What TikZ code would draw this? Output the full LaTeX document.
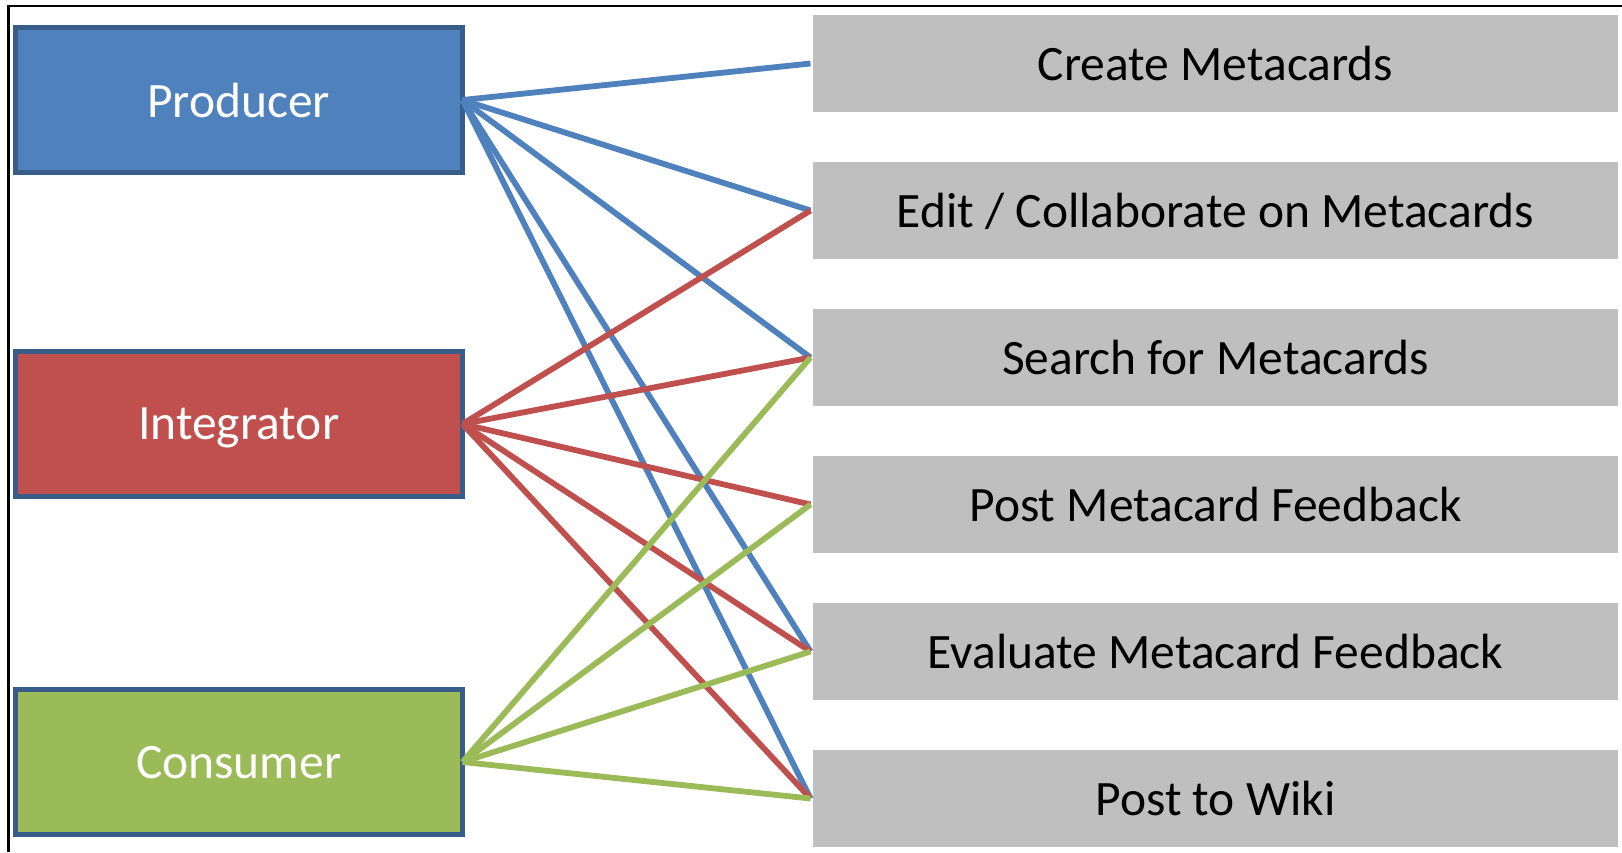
\documentclass[tikz,border=0pt]{standalone}
\usepackage{fontspec}
\setmainfont{Carlito}
\definecolor{pblue}{HTML}{4F81BD}
\definecolor{pred}{HTML}{C0504D}
\definecolor{pgreen}{HTML}{9BBB59}
\definecolor{pborder}{HTML}{385D8A}
\definecolor{pgray}{HTML}{BFBFBF}
\begin{document}
\begin{tikzpicture}[x=1pt,y=-1pt,
  rolebox/.style={draw=pborder,line width=5pt,outer sep=0pt,inner sep=0pt,
    minimum width=447.5pt,minimum height=145pt,text=white,text depth=0pt,
    font=\fontsize{49.5}{59}\selectfont},
  taskbox/.style={fill=pgray,draw=none,outer sep=0pt,inner sep=0pt,
    minimum width=805pt,minimum height=97pt,text=black,text depth=0pt,
    font=\fontsize{49.5}{59}\selectfont},
  link/.style={line width=5.8pt}]
\useasboundingbox (0,0) rectangle (1622,852);
\fill[white] (0,0) rectangle (1622,852);
% frame (top and left edges visible)
\coordinate (ftl) at (8.7,6);
\coordinate (ftr) at (1622,6);
\coordinate (fbl) at (8.7,852);
\draw[line width=2.6pt,black] (fbl) -- (ftl) -- (ftr);
% role boxes
\node[rolebox,fill=pblue]  (prod) at (238.75,100) {Producer};
\node[rolebox,fill=pred]   (integ) at (238.75,424) {Integrator};
\node[rolebox,fill=pgreen] (cons) at (238.75,762) {Consumer};
% task boxes
\node[taskbox] (create) at (1215.5,63.5)  {Create Metacards};
\node[taskbox] (edit)   at (1215.5,210.5) {Edit / Collaborate on Metacards};
\node[taskbox] (search) at (1215.5,357.5) {Search for Metacards};
\node[taskbox] (post)   at (1215.5,504.5) {Post Metacard Feedback};
\node[taskbox] (eval)   at (1215.5,651.5) {Evaluate Metacard Feedback};
\node[taskbox] (wiki)   at (1215.5,798.5) {Post to Wiki};
% links
\foreach \t in {create,edit,search,eval,wiki}
  \draw[link,pblue] (prod.east) -- ([xshift=-2.5pt]\t.west);
\foreach \t in {edit,search,post,eval,wiki}
  \draw[link,pred] (integ.east) -- ([xshift=-2.5pt]\t.west);
\foreach \t in {search,post,eval,wiki}
  \draw[link,pgreen] (cons.east) -- ([xshift=-2.5pt]\t.west);
\end{tikzpicture}
\end{document}
